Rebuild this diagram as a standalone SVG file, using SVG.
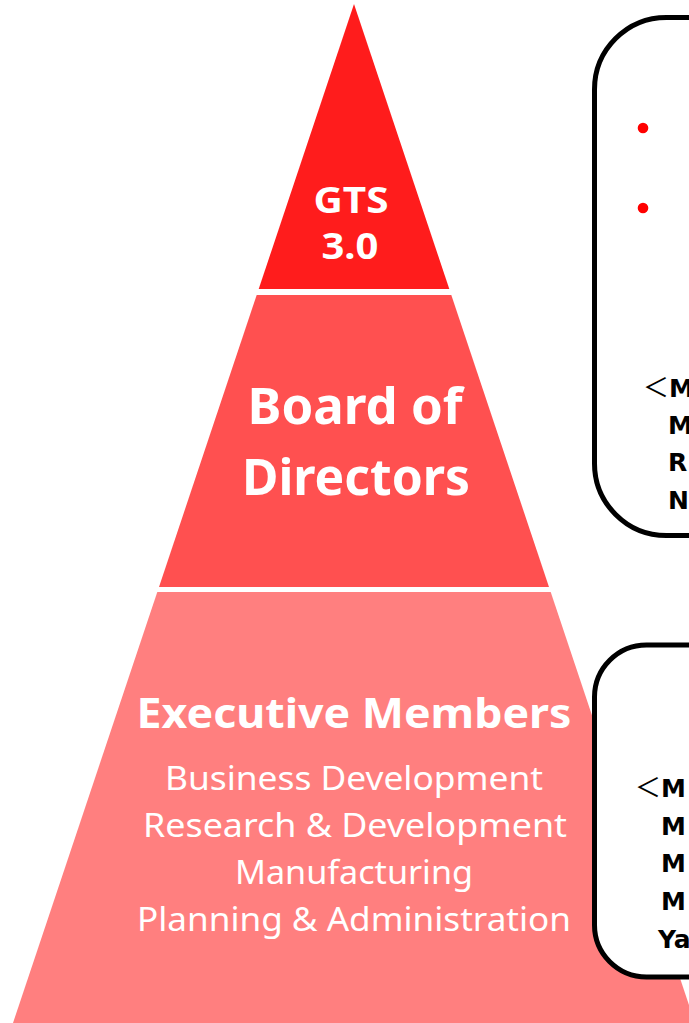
<svg xmlns="http://www.w3.org/2000/svg" width="689" height="1023" viewBox="0 0 689 1023">
<style>
.w{fill:#fff;font-family:"Noto Sans","Liberation Sans",sans-serif;text-anchor:middle}
.b{font-weight:bold}
.box{fill:#fff;stroke:#000;stroke-width:5}
.k{fill:#000;font-family:"DejaVu Sans","Noto Sans CJK JP",sans-serif;font-weight:bold;font-size:25px}
.lt{font-weight:normal;font-family:"Noto Sans CJK JP",sans-serif;font-size:26px}
</style>
<rect width="689" height="1023" fill="#fff"/>
<g id="gts">
<polygon points="354,4 449.3,289 258.7,289" fill="#FF1C1C"/>
<text class="w b" x="351" y="213" font-size="35" textLength="75" lengthAdjust="spacingAndGlyphs">GTS</text>
<text class="w b" x="350" y="259" font-size="35" textLength="57" lengthAdjust="spacingAndGlyphs">3.0</text>
</g>
<g id="board">
<polygon points="256.7,295 451.3,295 549,587 159,587" fill="#FF5050"/>
<text class="w b" x="355" y="424" font-size="51" textLength="215" lengthAdjust="spacingAndGlyphs">Board of</text>
<text class="w b" x="356" y="495" font-size="51" textLength="228" lengthAdjust="spacingAndGlyphs">Directors</text>
</g>
<g id="executive">
<polygon points="157.3,592 550.7,592 695,1023 13,1023" fill="#FF7F7F"/>
<text class="w b" x="354" y="728" font-size="42" textLength="435" lengthAdjust="spacingAndGlyphs">Executive Members</text>
<text class="w" x="354" y="790" font-size="32" textLength="378" lengthAdjust="spacingAndGlyphs">Business Development</text>
<text class="w" x="355" y="837" font-size="32" textLength="424" lengthAdjust="spacingAndGlyphs">Research &amp; Development</text>
<text class="w" x="354" y="884" font-size="32" textLength="238" lengthAdjust="spacingAndGlyphs">Manufacturing</text>
<text class="w" x="354" y="931" font-size="32" textLength="434" lengthAdjust="spacingAndGlyphs">Planning &amp; Administration</text>
</g>
<g id="board-box">
<rect class="box" x="594.5" y="17.5" width="200" height="518" rx="72" ry="72"/>
<circle cx="643" cy="128" r="5.3" fill="#FF0000"/>
<circle cx="643" cy="208" r="5.3" fill="#FF0000"/>
<text class="k" x="643" y="397"><tspan class="lt">＜</tspan>M</text>
<text class="k" x="668" y="434">M</text>
<text class="k" x="668" y="471">R</text>
<text class="k" x="668" y="509">N</text>
</g>
<g id="executive-box">
<rect class="box" x="594.5" y="645" width="200" height="332" rx="52" ry="52"/>
<text class="k" x="635" y="797"><tspan class="lt">＜</tspan>M</text>
<text class="k" x="661" y="835">M</text>
<text class="k" x="661" y="872">M</text>
<text class="k" x="661" y="910">M</text>
<text class="k" x="658" y="948">Ya</text>
</g>
</svg>
